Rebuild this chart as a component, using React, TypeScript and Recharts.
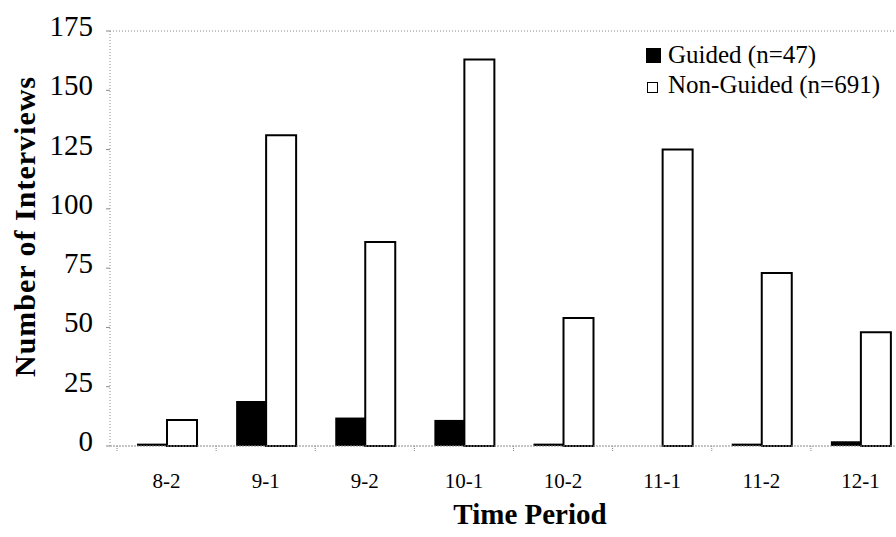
import React from 'react';
import { BarChart, Bar, XAxis, YAxis, ReferenceLine, Legend } from 'recharts';

const categories = ['8-2', '9-1', '9-2', '10-1', '10-2', '11-1', '11-2', '12-1'];
const guided = [1, 19, 12, 11, 1, 0, 1, 2];
const nonGuided = [11, 131, 86, 163, 54, 125, 73, 48];
const yTicks = [0, 25, 50, 75, 100, 125, 150, 175];
const seriesNames = ['Guided (n=47)', 'Non-Guided (n=691)'];
const xTitle = 'Time Period';
const yTitle = 'Number of Interviews';

const data = categories.map((c, i) => ({ period: c, guided: guided[i], nonGuided: nonGuided[i] }));

const FONT = '"Liberation Serif", "Times New Roman", serif';
const GRID = '#8a8a8a';

const YTick = (props: any) => {
  const { x, y, payload } = props;
  return (
    <text x={x} y={y + 5} textAnchor="end" fontFamily={FONT} fontSize={29} fill="#000">
      {payload.value}
    </text>
  );
};

const XTick = (props: any) => {
  const { x, y, payload } = props;
  const half = payload.offset || 0;
  return (
    <g>
      <line x1={x - half} x2={x - half} y1={y} y2={y + 5} stroke={GRID} strokeDasharray="1 1" />
      <text x={x} y={y + 42} textAnchor="middle" fontFamily={FONT} fontSize={21} fill="#000">
        {payload.value}
      </text>
    </g>
  );
};

const XTitle = (props: any) => {
  const vb = props.viewBox || { x: 0, y: 0, width: 0, height: 0 };
  return (
    <text x={vb.x + vb.width / 2 + 20} y={vb.y + 78} textAnchor="middle" fontFamily={FONT} fontSize={29} fontWeight="bold" fill="#000">
      {xTitle}
    </text>
  );
};

const YTitle = (props: any) => {
  const vb = props.viewBox || { x: 0, y: 0, width: 0, height: 0 };
  const cx = vb.x + 35;
  const cy = vb.y + vb.height / 2 - 12;
  return (
    <text x={cx} y={cy} transform={`rotate(-90, ${cx}, ${cy})`} textAnchor="middle" fontFamily={FONT} fontSize={30} fontWeight="bold" letterSpacing={1} fill="#000">
      {yTitle}
    </text>
  );
};

const LegendContent = () => (
  <div style={{ fontFamily: FONT, fontSize: 25, color: '#000', width: 260 }}>
    <div style={{ position: 'relative', height: 30, lineHeight: '30px' }}>
      <span style={{ position: 'absolute', left: 0, top: 8, width: 15, height: 15, background: '#000' }} />
      <span style={{ position: 'absolute', left: 22, top: 0, whiteSpace: 'nowrap' }}>{seriesNames[0]}</span>
    </div>
    <div style={{ position: 'relative', height: 30, lineHeight: '30px' }}>
      <span style={{ position: 'absolute', left: 1, top: 12, width: 11, height: 11, background: '#fff', border: '1px solid #000', boxSizing: 'border-box' }} />
      <span style={{ position: 'absolute', left: 22, top: 0, whiteSpace: 'nowrap' }}>{seriesNames[1]}</span>
    </div>
  </div>
);

export default function App() {
  return (
    <div style={{ position: 'absolute', left: 0, top: 0, width: 896, height: 537, overflow: 'hidden', background: '#fff' }}>
      <BarChart
        width={910}
        height={537}
        data={data}
        margin={{ top: 31, right: 0, bottom: 0, left: 0 }}
        barGap={0}
        barSize={30}
      >
        <ReferenceLine y={175} stroke={GRID} strokeDasharray="1 2" />
        <XAxis
          dataKey="period"
          height={91}
          padding={{ left: 7, right: 0 }}
          axisLine={{ stroke: GRID, strokeDasharray: '2 1' }}
          tickLine={false}
          tickSize={0}
          tickMargin={0}
          tick={<XTick />}
          interval={0}
          label={<XTitle />}
        />
        <YAxis
          width={110}
          domain={[0, 175]}
          ticks={yTicks}
          interval={0}
          axisLine={{ stroke: GRID, strokeDasharray: '1 2' }}
          tickLine={{ stroke: GRID }}
          tickSize={4}
          tickMargin={13}
          tick={<YTick />}
          label={<YTitle />}
        />
        <Legend
          layout="vertical"
          align="center"
          verticalAlign="middle"
          wrapperStyle={{ left: 646, top: 40, width: 260, height: 60 }}
          content={<LegendContent />}
        />
        <Bar dataKey="guided" name={seriesNames[0]} fill="#000" isAnimationActive={false} />
        <Bar dataKey="nonGuided" name={seriesNames[1]} fill="#fff" stroke="#000" strokeWidth={2} isAnimationActive={false} />
      </BarChart>
    </div>
  );
}
